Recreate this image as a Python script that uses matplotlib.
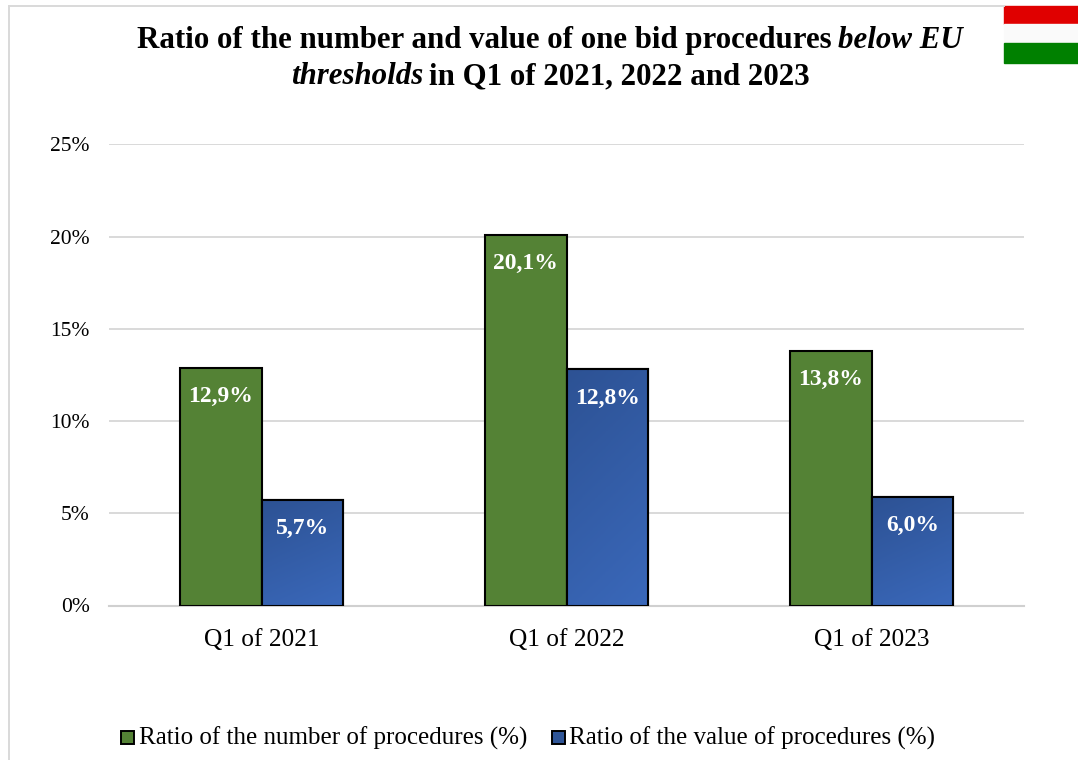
import matplotlib
matplotlib.use('Agg')
import numpy as np
import matplotlib.pyplot as plt
from matplotlib.colors import LinearSegmentedColormap
from matplotlib.patches import Rectangle

categories = ['Q1 of 2021', 'Q1 of 2022', 'Q1 of 2023']
number_ratio = [12.9, 20.1, 13.8]
value_ratio = [5.7, 12.8, 5.9]
number_labels = ['12,9%', '20,1%', '13,8%']
value_labels = ['5,7%', '12,8%', '6,0%']
y_ticks = [0, 5, 10, 15, 20, 25]

W, H = 1078, 760
plt.rcParams['font.family'] = ['Liberation Serif', 'DejaVu Serif']

fig = plt.figure(figsize=(W / 100, H / 100), dpi=100, facecolor='white')
ax = fig.add_axes([109 / W, 1 - 605.5 / H, (1024 - 109) / W, (605.5 - 144.5) / H])

x = np.arange(3)
bw = 81.5 / 304.5
blue_map = LinearSegmentedColormap.from_list('b', ['#2d5294', '#3a68ba'])
green = '#548235'

ax.bar(x - bw / 2, number_ratio, bw, color=green, edgecolor='black', linewidth=1.5, zorder=3)
bars = ax.bar(x + bw / 2, value_ratio, bw, color='#2f5597', edgecolor='black', linewidth=1.5, zorder=3)
for b in bars:
    # dark at the top left, lighter towards the bottom right
    gx, gy = np.meshgrid(np.linspace(0, 1, 32), np.linspace(0, 1, 64))
    grad = 0.75 * gy + 0.25 * gx
    ax.imshow(grad, cmap=blue_map, aspect='auto', zorder=3.1, vmin=0, vmax=1,
              extent=(b.get_x(), b.get_x() + b.get_width(), 0, b.get_height()))
    ax.add_patch(Rectangle((b.get_x(), 0), b.get_width(), b.get_height(), fill=False,
                           edgecolor='black', linewidth=1.5, zorder=3.2))

for i in range(3):
    ax.annotate(number_labels[i], (x[i] - bw / 2, number_ratio[i]), xytext=(0, -13), textcoords='offset points',
                ha='center', va='top', color='white', fontsize=17, fontweight='bold', zorder=4)
    ax.annotate(value_labels[i], (x[i] + bw / 2, value_ratio[i]), xytext=(0, -13), textcoords='offset points',
                ha='center', va='top', color='white', fontsize=17, fontweight='bold', zorder=4)

ax.set_xlim(-0.5, 2.5)
ax.set_ylim(0, 25)
ax.set_xticks(x)
ax.set_xticklabels(categories, fontsize=18.3)
ax.set_yticks(y_ticks)
ax.set_yticklabels([f'{t}%' for t in y_ticks], fontsize=15.5)
ax.tick_params(axis='both', length=0)
ax.tick_params(axis='x', pad=17)
ax.tick_params(axis='y', pad=14)
ax.grid(axis='y', color='#d9d9d9', linewidth=1.4, zorder=0)
ax.set_axisbelow(True)
for s in ['top', 'left', 'right']:
    ax.spines[s].set_visible(False)
ax.spines['bottom'].set_color('#d0d0d0')
ax.spines['bottom'].set_linewidth(1.5)


def title_line(parts, center, base):
    # bold and bold italic pieces side by side on one baseline
    renderer = fig.canvas.get_renderer()
    items = [fig.text(0, 1 - base / H, s, fontsize=22.2, fontweight='bold', style=st, va='baseline')
             for s, st in parts]
    widths = [t.get_window_extent(renderer).width for t in items]
    gap = 6
    pos = center - (sum(widths) + gap * (len(items) - 1)) / 2
    for t, w in zip(items, widths):
        t.set_x(pos / W)
        pos += w + gap


title_line([('Ratio of the number and value of one bid procedures', 'normal'),
            ('below EU', 'italic')], 550, 48)
title_line([('thresholds', 'italic'), ('in Q1 of 2021, 2022 and 2023', 'normal')], 550, 84)

# flag in the corner
fig.patches.extend([
    Rectangle((1004 / W, 1 - 24 / H), 74 / W, 18 / H, transform=fig.transFigure, color='#e00000'),
    Rectangle((1004 / W, 1 - 43 / H), 74 / W, 19 / H, transform=fig.transFigure, color='#fafafa'),
    Rectangle((1004 / W, 1 - 62.5 / H), 74 / W, 19.5 / H, transform=fig.transFigure, color='#008000'),
])

# legend
fig.patches.extend([
    Rectangle((120.5 / W, 1 - 744 / H), 13 / W, 13 / H, transform=fig.transFigure, facecolor=green, edgecolor='black', linewidth=1.4),
    Rectangle((551.5 / W, 1 - 744 / H), 13 / W, 13 / H, transform=fig.transFigure, facecolor='#2f5597', edgecolor='black', linewidth=1.4),
])
fig.text(139 / W, 1 - 738.5 / H, 'Ratio of the number of procedures (%)', va='center', fontsize=18)
fig.text(569 / W, 1 - 738.5 / H, 'Ratio of the value of procedures (%)', va='center', fontsize=18)

# chart border, only top and left are on the page
fig.add_artist(plt.Line2D([9 / W, 9 / W], [0, 1 - 6 / H], color='#d9d9d9', linewidth=1.4))
fig.add_artist(plt.Line2D([9 / W, 1004 / W], [1 - 6 / H, 1 - 6 / H], color='#d9d9d9', linewidth=1.4))

fig.savefig('out.png', dpi=100)
